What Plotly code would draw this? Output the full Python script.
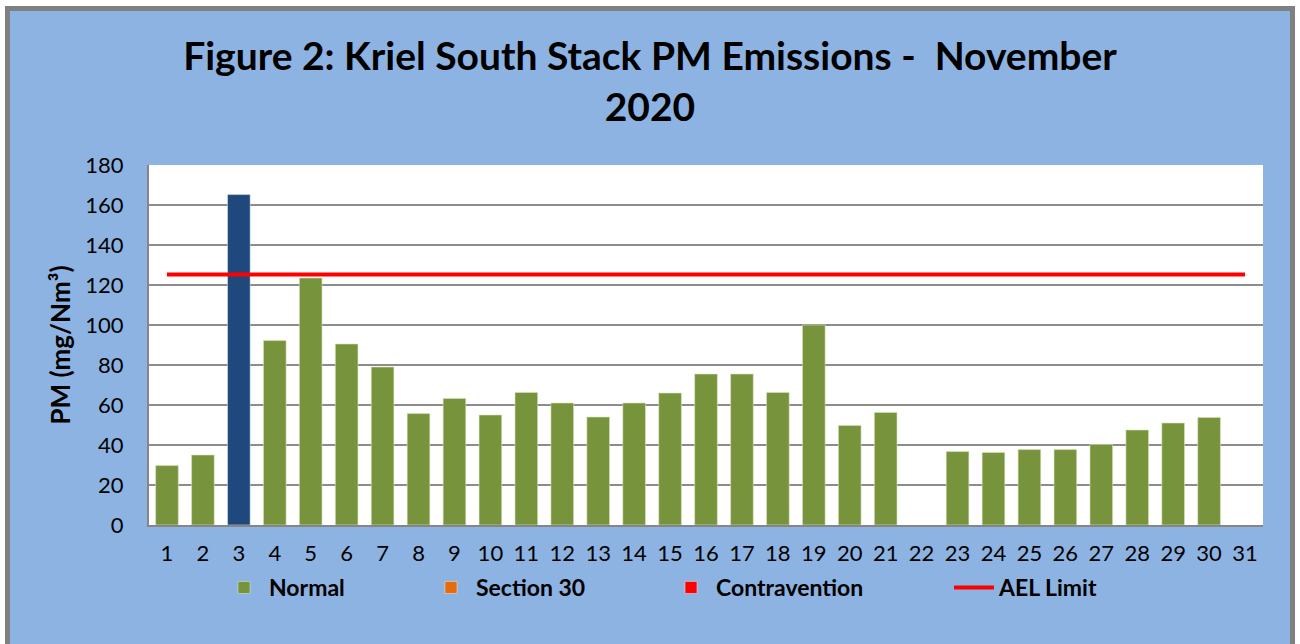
import plotly.graph_objects as go

days = list(range(1, 32))
tick_labels = [str(d) for d in days]

normal = [29.7, 35, None, 92.2, 123.5, 90.5, 79, 55.7, 63.3, 55, 66.3, 61, 54, 61, 66,
          75.5, 75.5, 66.3, 100, 49.8, 56.3, None, 36.7, 36.3, 37.7, 37.7, 40.3, 47.5, 51,
          53.8, None]
exceed = [None, None, 165.2] + [None] * 28
section30 = [None] * 31
contravention = [None] * 31
ael_limit = [125.3] * 31

FONT = "Lato"
fig = go.Figure()
fig.add_trace(go.Bar(x=days, y=normal, name="<b>Normal</b>", marker_color="#77933C",
                     marker_line=dict(color="#D7E4BD", width=0.6), width=0.63, legend="legend"))
fig.add_trace(go.Bar(x=days, y=section30, name="<b>Section 30</b>", marker_color="#E46C0A",
                     width=0.63, legend="legend2"))
fig.add_trace(go.Bar(x=days, y=contravention, name="<b>Contravention</b>", marker_color="#FF0000",
                     width=0.63, legend="legend3"))
fig.add_trace(go.Bar(x=days, y=exceed, name="Day 3", marker_color="#1F497D", width=0.63,
                     showlegend=False))
fig.add_trace(go.Scatter(x=days, y=ael_limit, name="<b>AEL Limit</b>", mode="lines",
                         line=dict(color="#FF0000", width=4), legend="legend4"))

L, R, T, B = 149, 1263, 165, 525
W, H = 1300, 644
pw, ph = R - L, B - T

def px_x(x):
    return (x - L) / pw

def px_y(y):
    return (B - y) / ph

# outer white strips and grey frame
for (x0, x1, y0, y1) in [(0, 5, 0, H), (1295, W, 0, H), (0, W, 0, 6.5)]:
    fig.add_shape(type="rect", xref="paper", yref="paper",
                  x0=px_x(x0), x1=px_x(x1), y0=px_y(y1), y1=px_y(y0),
                  fillcolor="white", line=dict(width=0), layer="above")
fig.add_shape(type="rect", xref="paper", yref="paper",
              x0=px_x(7.5), x1=px_x(1292.5), y0=px_y(680), y1=px_y(8.5),
              line=dict(color="#808080", width=5), layer="above")

def leg(text_start):
    return dict(orientation="h", xref="paper", yref="paper",
                x=px_x(text_start - 51), xanchor="left", y=-(566 - B) / ph, yanchor="top",
                bgcolor="rgba(0,0,0,0)", font=dict(size=23, family=FONT, color="black"),
                itemwidth=40)

fig.update_layout(
    width=W, height=H,
    margin=dict(l=L, r=W - R, t=T, b=H - B),
    paper_bgcolor="#8DB3E2", plot_bgcolor="white",
    barmode="overlay",
    font=dict(family=FONT, color="black"),
    title=dict(text="<b>Figure 2: Kriel South Stack PM Emissions -  November<br>2020</b>",
               xref="container", x=0.5, xanchor="center",
               yref="container", y=1 - 70 / H, yanchor="top",
               font=dict(family=FONT, size=39, color="black")),
    xaxis=dict(range=[0.5, 31.5], tickvals=days, ticktext=tick_labels,
               showgrid=False, showline=True, linecolor="#868686", linewidth=2,
               ticks="", tickfont=dict(size=22), ticklabelstandoff=8, zeroline=False),
    yaxis=dict(range=[0, 180], dtick=20, showgrid=True, gridcolor="#8C8C8C", gridwidth=2,
               showline=True, linecolor="#868686", linewidth=2, ticks="",
               tickfont=dict(size=22), ticklabelstandoff=19, zeroline=False,
               title=dict(text="<b>PM (mg/Nm³)</b>", font=dict(size=26), standoff=7)),
    legend=leg(270),
    legend2=leg(477),
    legend3=leg(717),
    legend4=leg(1000),
)

fig.write_html("out.html", config={"displayModeBar": False},
               post_script="document.body.style.margin='0';")
